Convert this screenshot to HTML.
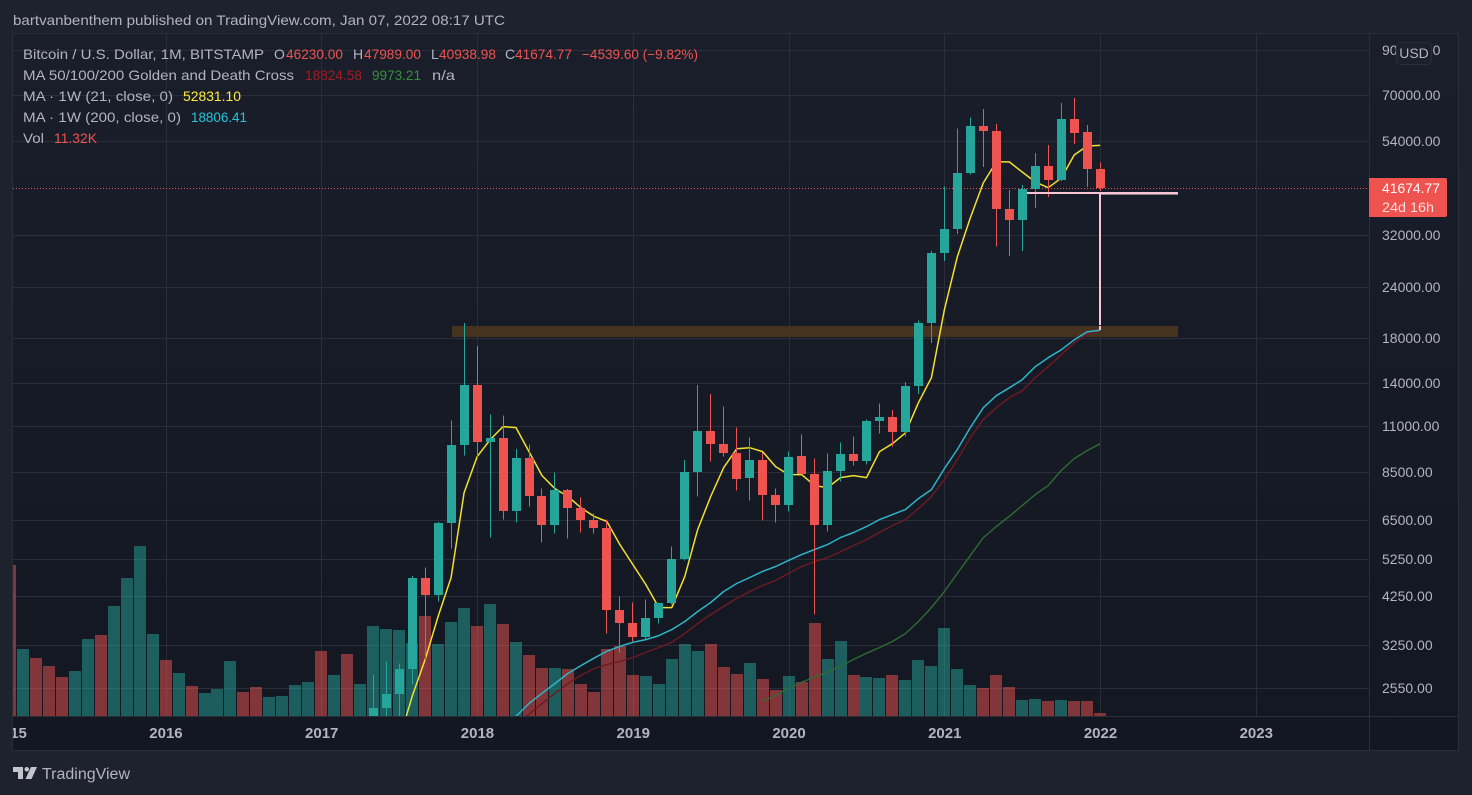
<!DOCTYPE html>
<html lang="en">
<head>
<meta charset="utf-8">
<title>Bitcoin / U.S. Dollar monthly chart</title>
<style>
html,body{margin:0;padding:0;background:#1e222d;width:1472px;height:795px;overflow:hidden}
svg{display:block;font-family:"Liberation Sans",Arial,sans-serif}
text{white-space:pre}
</style>
</head>
<body>
<svg id="chart" xmlns="http://www.w3.org/2000/svg" width="1472" height="795" viewBox="0 0 1472 795">
  <defs>
    <linearGradient id="paneGrad" x1="0" y1="0" x2="0" y2="1">
      <stop offset="0" stop-color="#1a1e2a"/>
      <stop offset="0.55" stop-color="#161a25"/>
      <stop offset="1" stop-color="#131722"/>
    </linearGradient>
    <clipPath id="plotClip"><rect x="13" y="34" width="1356" height="682"/></clipPath>
    <clipPath id="timeClip"><rect x="13" y="717" width="1356" height="33"/></clipPath>
  </defs>
  <rect x="0" y="0" width="1472" height="795" fill="#1e222d"/>
  <rect x="12.5" y="33.5" width="1446" height="717" fill="url(#paneGrad)" stroke="#2a2e39" stroke-width="1"/>

  <g id="grid" clip-path="url(#plotClip)" shape-rendering="crispEdges"></g>
  <g id="volumes" clip-path="url(#plotClip)" shape-rendering="crispEdges"></g>
  <rect x="452" y="326" width="726" height="11" fill="#46331f"/>
  <g id="lastPriceLine" shape-rendering="crispEdges"></g>
  <g id="maLines" clip-path="url(#plotClip)" fill="none" stroke-linejoin="round"></g>
  <g id="candles" clip-path="url(#plotClip)" shape-rendering="crispEdges"></g>

  <g shape-rendering="crispEdges">
    <rect x="1100" y="194" width="78" height="1" fill="#8f7f88"/>
    <rect x="1027" y="192" width="151" height="2" fill="#f8c4d6"/>
    <rect x="1099" y="193" width="2" height="132" fill="#f8c4d6"/>
    <rect x="1099" y="326" width="2" height="4" fill="#f8c4d6"/>
  </g>

  <line x1="1369.5" y1="34" x2="1369.5" y2="750" stroke="#2a2e39"/>
  <line x1="13" y1="716.5" x2="1458" y2="716.5" stroke="#2a2e39"/>

  <text x="13" y="25" font-size="14" fill="#b2b5be" textLength="492" lengthAdjust="spacingAndGlyphs">bartvanbenthem published on TradingView.com, Jan 07, 2022 08:17 UTC</text>

  <g font-size="14">
    <text x="23" y="59" fill="#b2b5be" textLength="241" lengthAdjust="spacingAndGlyphs">Bitcoin / U.S. Dollar, 1M, BITSTAMP</text>
    <text x="274" y="59" fill="#b2b5be">O</text>
    <text x="286" y="59" fill="#ef5350" textLength="57" lengthAdjust="spacingAndGlyphs">46230.00</text>
    <text x="353" y="59" fill="#b2b5be">H</text>
    <text x="364" y="59" fill="#ef5350" textLength="57" lengthAdjust="spacingAndGlyphs">47989.00</text>
    <text x="431" y="59" fill="#b2b5be">L</text>
    <text x="439" y="59" fill="#ef5350" textLength="57" lengthAdjust="spacingAndGlyphs">40938.98</text>
    <text x="505" y="59" fill="#b2b5be">C</text>
    <text x="515" y="59" fill="#ef5350" textLength="57" lengthAdjust="spacingAndGlyphs">41674.77</text>
    <text x="582" y="59" fill="#ef5350" textLength="116" lengthAdjust="spacingAndGlyphs">−4539.60 (−9.82%)</text>

    <text x="23" y="80" fill="#b2b5be" textLength="271" lengthAdjust="spacingAndGlyphs">MA 50/100/200 Golden and Death Cross</text>
    <text x="305" y="80" fill="#a31c22" textLength="57" lengthAdjust="spacingAndGlyphs">18824.58</text>
    <text x="372" y="80" fill="#388e3c" textLength="49" lengthAdjust="spacingAndGlyphs">9973.21</text>
    <text x="432" y="80" fill="#b2b5be" textLength="23" lengthAdjust="spacingAndGlyphs">n/a</text>

    <text x="23" y="101" fill="#b2b5be" textLength="150" lengthAdjust="spacingAndGlyphs">MA · 1W (21, close, 0)</text>
    <text x="183" y="101" fill="#ffeb3b" textLength="58" lengthAdjust="spacingAndGlyphs">52831.10</text>

    <text x="23" y="122" fill="#b2b5be" textLength="158" lengthAdjust="spacingAndGlyphs">MA · 1W (200, close, 0)</text>
    <text x="191" y="122" fill="#26c6da" textLength="56" lengthAdjust="spacingAndGlyphs">18806.41</text>

    <text x="23" y="143" fill="#b2b5be" textLength="21" lengthAdjust="spacingAndGlyphs">Vol</text>
    <text x="54" y="143" fill="#ef5350" textLength="43" lengthAdjust="spacingAndGlyphs">11.32K</text>
  </g>

  <g id="priceAxis" font-size="14" fill="#b2b5be"></g>
  <g id="timeAxis" font-size="15" font-weight="bold" fill="#b2b5be" clip-path="url(#timeClip)" text-anchor="middle"></g>

  <g>
    <rect x="1396.5" y="42.5" width="35" height="22" rx="4" fill="#1c202b" stroke="#2a2e39"/>
    <text x="1414" y="58" font-size="14" fill="#b2b5be" text-anchor="middle">USD</text>
  </g>

  <g>
    <path d="M1369 178H1445a2 2 0 0 1 2 2V215a2 2 0 0 1 -2 2H1369Z" fill="#ef5350"/>
    <text x="1382" y="193" font-size="14" fill="#ffffff" textLength="58" lengthAdjust="spacingAndGlyphs">41674.77</text>
    <text x="1382" y="212" font-size="14" fill="#fcdcdc" textLength="52" lengthAdjust="spacingAndGlyphs">24d 16h</text>
  </g>

  <g>
    <path fill="#c3c6ce" d="M13 767H23V779H18V772H13Z M24.5 769.3a2.3 2.3 0 1 0 4.6 0a2.3 2.3 0 1 0 -4.6 0Z M31 767H37L31.5 779H25.5Z"/>
    <text x="42" y="779" font-size="15.5" fill="#b2b5be" textLength="88" lengthAdjust="spacingAndGlyphs">TradingView</text>
  </g>

<script>
// ---------- chart data (prices in USD, volumes in thousands) ----------
var firstMonthYear = 2015;
var priceTicks = [90000, 70000, 54000, 32000, 24000, 18000, 14000, 11000, 8500, 6500, 5250, 4250, 3250, 2550];
var yearTicks = [2015, 2016, 2017, 2018, 2019, 2020, 2021, 2022, 2023];

var candleStart = 28; // May 2017, months after Jan 2015
var opens = [
  1350,2280,2460,2840,4725,4295,6420,9925,
  13870,10100,10280,6860,9230,7430,6350,7720,6950,6530,6240,3930,
  3655,3380,3775,4090,5250,8540,10740,9980,9490,8260,9130,7510,
  7100,9330,8440,6350,8590,9440,9080,11350,11610,10680,13790,19610,
  29000,33100,45300,58800,57200,37000,34800,41400,47100,43550,61200,56900,
  46230
];
var highs = [
  2740,2955,2920,4770,4990,6450,11350,19600,
  17240,11735,11670,9700,9925,7760,8490,7750,7385,6750,6530,4255,
  4110,4180,4110,5620,9100,13870,13190,12270,10920,10320,9490,7760,
  9550,10495,9180,9440,10040,10380,11410,12480,12030,14100,19850,29300,
  41950,58000,61800,64800,59500,41200,42360,50600,52950,67000,68900,59200,
  47989
];
var lows = [
  1300,1900,1830,2600,2990,4130,5555,9330,
  9230,5905,6530,6420,7020,5745,6040,5880,6075,6040,3455,3110,
  3305,3340,3655,4060,5200,7430,9030,9280,7680,7260,6490,6420,
  6830,8400,3840,6110,8080,8830,8880,10550,9820,10380,13190,17530,
  27720,32200,44900,46800,30000,28500,29300,37250,39600,43300,53250,41900,
  40938.98
];
var closes = [
  2280,2460,2840,4725,4295,6420,9925,13870,
  10100,10280,6860,9230,7430,6350,7720,6950,6530,6240,3930,3655,
  3380,3775,4090,5250,8540,10740,9980,9490,8210,9130,7510,7100,
  9280,8440,6350,8590,9440,9080,11350,11610,10680,13790,19610,29000,
  33100,45300,58800,57200,37000,34800,41400,47100,43550,61200,56600,46230,
  41674.77
];

var volumes = [
  513,228,197,170,133,153,262,275,374,469,578,279,
  190,146,102,78,92,187,82,99,65,68,105,116,
  221,139,211,109,306,296,292,248,340,245,320,367,
  306,381,313,252,207,163,163,160,109,82,228,238,
  139,136,109,194,245,221,245,167,143,180,126,88,
  136,116,316,194,255,139,133,129,139,122,190,170,
  299,160,105,95,139,99,54,58,51,54,51,51,
  11.32
];
var volumeDirections = [
  'd','u','d','d','d','u','u','d','u','u','u','u',
  'd','u','d','u','u','u','d','d','u','u','u','u',
  'd','u','d','u','u','u','u','u','d','u','u','u',
  'd','u','d','u','d','d','u','d','d','d','d','d',
  'd','u','u','u','u','u','d','d','d','u','d','d',
  'u','d','d','u','u','d','u','u','d','u','u','u',
  'u','u','u','d','d','d','u','u','d','u','d','d',
  'd'
];

var ma21Start = 30; // Jul 2017
var ma21Values = [
  1908,2433,2990,3800,4725,7595,
  9280,10200,10980,10920,9550,8350,7760,7430,6980,6650,6460,5680,
  5080,4545,3995,3995,4755,6180,7430,8730,9700,9760,9550,8780,
  8395,8395,7895,7810,8255,8350,8255,9550,9980,10600,12550,14430,
  21090,28340,35230,42840,48160,48160,45540,43080,41700,43980,50075,52650,
  52831.10
];
var weekly200Start = 39; // Apr 2018
var weekly200Values = [
  2175,2338,2474,2614,2764,2889,3010,3130,3215,
  3290,3340,3415,3533,3695,3908,4110,4370,4570,4725,4890,5025,
  5200,5370,5525,5680,5905,6075,6280,6530,6715,6905,7345,7720,
  8685,9660,10920,12200,13050,13640,14265,15340,16130,16860,17830,18640,
  18806.41
];
var ma50Start = 39; // Apr 2018
var ma50Values = [
  2105,2200,2338,2474,2614,2735,2840,2905,2955,
  3020,3110,3195,3290,3455,3655,3840,4020,4205,4370,4520,4650,
  4835,5025,5165,5280,5460,5650,5840,6075,6315,6530,6940,7430,
  8165,9130,10320,11415,12200,12900,13415,14425,15340,16400,17535,18335,
  18824.58
];
var ma100Start = 58; // Nov 2019
var ma100Values = [
  2365,2446,
  2545,2632,2710,2790,2875,2990,3095,3195,3305,3455,3695,3995,
  4370,4835,5340,5905,6280,6650,7060,7510,7895,8590,9180,9600,
  9973.21
];
var lastPrice = 41674.77;

// ---------- axis functions ----------
function xOf(monthIndex) { return 9.8 + 12.98 * monthIndex; }
function yOf(price) { return 95 + 179 * Math.log(70000 / price); }
function volHeight(v) { return v / 3.4; }

var NS = 'http://www.w3.org/2000/svg';
function mk(parent, tag, geom) {
  var el = document.createElementNS(NS, tag);
  for (var k in geom) { el.setAttribute(k, geom[k]); }
  parent.appendChild(el);
  return el;
}

// grid
var gridG = document.getElementById('grid');
priceTicks.forEach(function (p) {
  var y = Math.round(yOf(p)) + 0.5;
  var el = mk(gridG, 'line', {x1: 13, x2: 1369, y1: y, y2: y, stroke: '#2a2e39', 'stroke-width': 1});
  
  
});
yearTicks.forEach(function (yr) {
  var x = Math.round(xOf((yr - firstMonthYear) * 12)) + 0.5;
  var el = mk(gridG, 'line', {x1: x, x2: x, y1: 34, y2: 716, stroke: '#2a2e39', 'stroke-width': 1});
  
  
});

// price axis labels
var priceG = document.getElementById('priceAxis');
priceTicks.forEach(function (p) {
  var t = mk(priceG, 'text', {x: 1382, y: Math.round(yOf(p)) + 5});
  
  
  t.textContent = p.toFixed(2);
});

// time axis labels
var timeG = document.getElementById('timeAxis');
yearTicks.forEach(function (yr) {
  var t = mk(timeG, 'text', {x: xOf((yr - firstMonthYear) * 12) + 0.4, y: 738});
  
  
  t.textContent = String(yr);
});

// volume bars
var volG = document.getElementById('volumes');
volumes.forEach(function (v, i) {
  var h = volHeight(v);
  var bar = mk(volG, 'rect', {
    x: Math.round(xOf(i) - 6), y: 716 - Math.round(h), width: 12, height: Math.round(h),
    fill: volumeDirections[i] === 'u' ? '#26a69a' : '#ef5350', 'fill-opacity': 0.5
  });
  
  
});

// moving averages
var maG = document.getElementById('maLines');
function drawLine(values, start, color, width, name) {
  var d = values.map(function (v, i) {
    return (i ? 'L' : 'M') + xOf(start + i).toFixed(1) + ' ' + yOf(v).toFixed(1);
  }).join('');
  var path = mk(maG, 'path', {d: d, stroke: color, 'stroke-width': width});
  
  
}
drawLine(ma100Values, ma100Start, '#2f6b36', 1.4, 'ma100-line');
drawLine(ma50Values, ma50Start, '#6f1a22', 1.4, 'ma50-line');
drawLine(weekly200Values, weekly200Start, '#2fb4c8', 1.5, 'weekly-ma200-line');
drawLine(ma21Values, ma21Start, '#f2e02e', 1.5, 'ma21-line');

// candles
var candleG = document.getElementById('candles');
opens.forEach(function (o, i) {
  var c = closes[i];
  var cx = xOf(candleStart + i);
  var color = c >= o ? '#26a69a' : '#ef5350';
  var g = mk(candleG, 'g', {});
  
  
  var yH = yOf(highs[i]);
  var yL = yOf(lows[i]);
  var wick = mk(g, 'rect', {x: Math.round(cx - 0.5), y: yH, width: 1, height: yL - yH, fill: color});
  
  
  var top = Math.round(yOf(Math.max(o, c)));
  var bottom = Math.round(yOf(Math.min(o, c)));
  var body = mk(g, 'rect', {x: Math.round(cx - 4.5), y: top, width: 9, height: Math.max(1, bottom - top), fill: color});
  
  
});

// last price dotted line
var lastG = document.getElementById('lastPriceLine');
var lastY = Math.round(yOf(lastPrice)) + 0.5;
var lastLine = mk(lastG, 'line', {x1: 13, x2: 1369, y1: lastY, y2: lastY, stroke: '#ef5350', 'stroke-width': 1, 'stroke-dasharray': '1 2'});


</script>
</svg>
</body>
</html>
